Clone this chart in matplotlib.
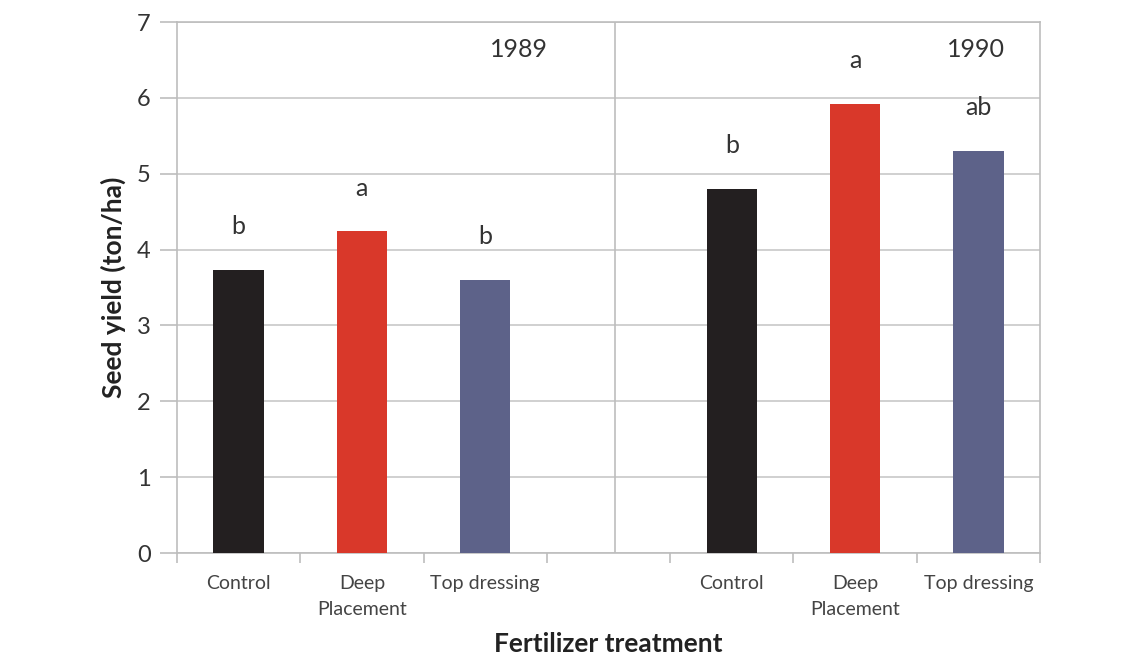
import matplotlib
matplotlib.use('Agg')
import matplotlib.pyplot as plt

plt.rcParams['font.family'] = ['Lato', 'DejaVu Sans']

# data
categories = ['Control', 'Deep\nPlacement', 'Top dressing', '', 'Control', 'Deep\nPlacement', 'Top dressing']
yield_1989 = [3.73, 4.24, 3.60]
yield_1990 = [4.80, 5.92, 5.30]
letters_1989 = ['b', 'a', 'b']
letters_1990 = ['b', 'a', 'ab']
years = ['1989', '1990']
colors = ['#231f20', '#d9382a', '#5d6289']

fig = plt.figure(figsize=(11.38, 6.59), dpi=100)
ax = fig.add_axes([0.1555, 0.1608, 0.7584, 0.8058])

x89 = [0, 1, 2]
x90 = [4, 5, 6]
ax.bar(x89, yield_1989, width=0.41, color=colors, zorder=3)
ax.bar(x90, yield_1990, width=0.41, color=colors, zorder=3)

for xs, vals, labs in [(x89, yield_1989, letters_1989), (x90, yield_1990, letters_1990)]:
    for x, v, l in zip(xs, vals, labs):
        ax.text(x, v + 0.42, l, ha='center', va='bottom', fontsize=18, color='#333333')

ax.text(2.27, 6.64, years[0], ha='center', va='center', fontsize=18, color='#333333')
ax.text(5.98, 6.64, years[1], ha='center', va='center', fontsize=18, color='#333333')

ax.axvline(3.05, color='#bdbdbd', lw=1.2, zorder=1)

ax.set_xlim(-0.5, 6.5)
ax.set_ylim(0, 7)
ax.set_yticks(range(0, 8))
ax.yaxis.grid(True, color='#c8c8c8', lw=1.2, zorder=0)
ax.set_axisbelow(True)

ax.set_xticks(range(7))
ax.set_xticklabels(categories, fontsize=14, color='#444444', linespacing=1.6)
ax.set_xticks([i - 0.5 for i in range(8)], minor=True)
ax.tick_params(axis='x', which='major', length=0, pad=16)
ax.tick_params(axis='x', which='minor', length=7, color='#bdbdbd', width=1.2)
ax.tick_params(axis='y', length=12, color='#bdbdbd', width=1.2, labelsize=17,
               labelcolor='#333333', pad=7)

for s in ax.spines.values():
    s.set_color('#bdbdbd')
    s.set_linewidth(1.2)

ax.set_ylabel('Seed yield (ton/ha)', fontsize=19, fontweight='bold', color='#222222', labelpad=8)
ax.set_xlabel('Fertilizer treatment', fontsize=19, fontweight='bold', color='#222222', labelpad=10)

fig.savefig('out.png', dpi=100)
